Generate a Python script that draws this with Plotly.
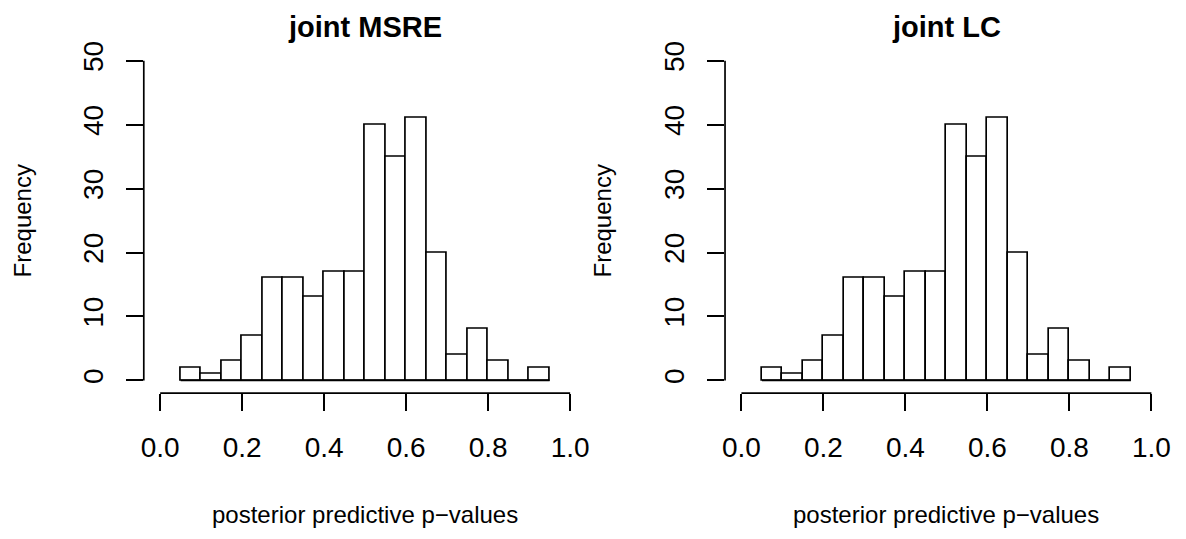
import plotly.graph_objects as go

# ---- data ----
bin_edges = [0.05, 0.10, 0.15, 0.20, 0.25, 0.30, 0.35, 0.40, 0.45, 0.50,
             0.55, 0.60, 0.65, 0.70, 0.75, 0.80, 0.85, 0.90, 0.95]
counts_msre = [2, 1, 3, 7, 16, 16, 13, 17, 17, 40, 35, 41, 20, 4, 8, 3, 0, 2]
counts_lc = [2, 1, 3, 7, 16, 16, 13, 17, 17, 40, 35, 41, 20, 4, 8, 3, 0, 2]
panel_titles = ["joint MSRE", "joint LC"]
x_ticks = [0.0, 0.2, 0.4, 0.6, 0.8, 1.0]
x_ticktext = ["0.0", "0.2", "0.4", "0.6", "0.8", "1.0"]
y_ticks = [0, 10, 20, 30, 40, 50]
x_label = "posterior predictive p\u2212values"
y_label = "Frequency"

W, H = 1186, 539
FONT = "Liberation Sans, Arial, Helvetica, sans-serif"
LW = 1.7

centers = [(a + b) / 2 for a, b in zip(bin_edges[:-1], bin_edges[1:])]
widths = [b - a for a, b in zip(bin_edges[:-1], bin_edges[1:])]

# panel geometry (pixels)
panels_px = [(141.5, 586.5), (725.7, 1170.7)]
y_bot_px, y_top_px = 391.3, 41.4
ydom = [1 - y_bot_px / H, 1 - y_top_px / H]

fig = go.Figure()
annotations = []
shapes = []
for i, (counts, title) in enumerate(zip([counts_msre, counts_lc], panel_titles)):
    xa = "x" if i == 0 else "x2"
    ya = "y" if i == 0 else "y2"
    fig.add_trace(go.Bar(
        x=centers, y=counts, width=widths,
        marker=dict(color="white", line=dict(color="black", width=LW)),
        xaxis=xa, yaxis=ya, showlegend=False, hoverinfo="x+y",
    ))
    # baseline of bins (shows zero-count bins like R)
    fig.add_trace(go.Scatter(
        x=[bin_edges[0], bin_edges[-1]], y=[0, 0], mode="lines",
        line=dict(color="black", width=LW), xaxis=xa, yaxis=ya,
        showlegend=False, hoverinfo="skip",
    ))
    x0p, x1p = panels_px[i]
    axis_common = dict(showgrid=False, zeroline=False, showline=False,
                       ticks="outside", ticklen=17, tickwidth=LW, tickcolor="black",
                       tickfont=dict(family=FONT, size=28, color="black"))
    fig.layout[("xaxis" if i == 0 else "xaxis2")] = dict(
        domain=[x0p / W, x1p / W], range=[-0.04, 1.04], anchor=ya,
        tickvals=x_ticks, ticktext=x_ticktext, ticklabelstandoff=12, **axis_common)
    fig.layout[("yaxis" if i == 0 else "yaxis2")] = dict(
        domain=ydom, range=[-2, 52], anchor=xa,
        tickvals=y_ticks, tickangle=-90, ticklabelstandoff=12, **axis_common)
    dref = xa + " domain"
    ydref = ya + " domain"
    shapes.append(dict(type="line", xref=xa, yref=ydref, x0=x_ticks[0], x1=x_ticks[-1],
                       y0=0, y1=0, line=dict(color="black", width=LW)))
    shapes.append(dict(type="line", xref=dref, yref=ya, x0=0, x1=0,
                       y0=y_ticks[0], y1=y_ticks[-1], line=dict(color="black", width=LW)))
    annotations.append(dict(text=title, xref=dref, x=0.5, yref="paper", y=1 - 20 / H,
                            xanchor="center", yanchor="middle", showarrow=False,
                            font=dict(family=FONT, size=29, color="black", weight="bold")))
    annotations.append(dict(text=x_label, xref=dref, x=0.5, yref="paper", y=1 - 514.6 / H,
                            xanchor="center", yanchor="middle", showarrow=False,
                            font=dict(family=FONT, size=24, color="black")))
    ylab_x = [20, 603][i]
    annotations.append(dict(text=y_label, xref="paper", x=ylab_x / W, yref=ydref, y=0.5,
                            xanchor="center", yanchor="middle", textangle=-90, showarrow=False,
                            font=dict(family=FONT, size=24, color="black")))

fig.update_layout(
    width=W, height=H, margin=dict(l=0, r=0, t=0, b=0),
    paper_bgcolor="white", plot_bgcolor="white",
    annotations=annotations, shapes=shapes, bargap=0,
    font=dict(family=FONT, color="black"),
)
fig.write_html("out.html")
